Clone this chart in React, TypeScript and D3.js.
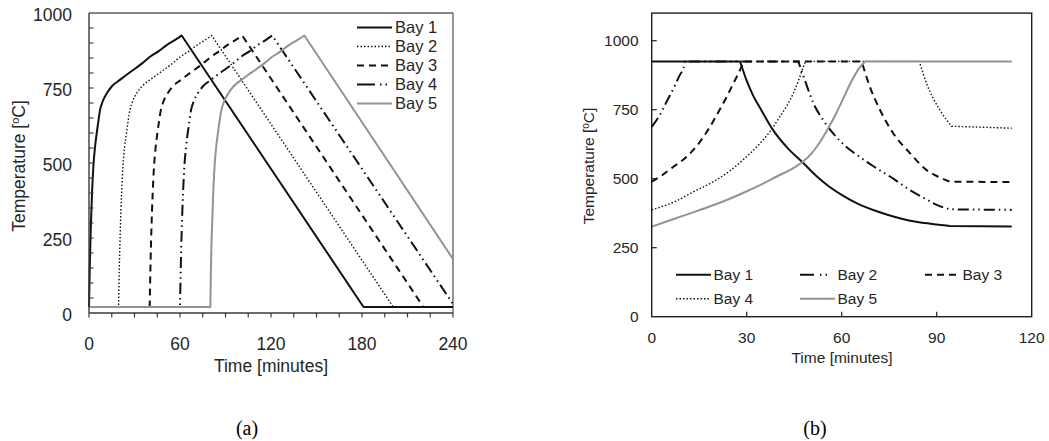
import React from 'react';
import * as d3 from 'd3';

type Pt = [number, number];

const bayNames = ['Bay 1', 'Bay 2', 'Bay 3', 'Bay 4', 'Bay 5'];

// ---- Panel (a): temperature histories over 0–240 min ----
const a1Rise: Pt[] = [[0, 20], [0.5, 150], [1.1, 270], [2, 400], [2.9, 490], [4, 555], [5.1, 600], [6.2, 640], [7.3, 677], [9, 705], [11.7, 732], [15, 755], [20.4, 777], [25, 795], [29.2, 810], [35, 832], [40.2, 854], [46, 873], [51.2, 893], [56, 908], [61.1, 925]];
const a1Fall: Pt[] = [[61.1, 925], [181, 20]];
const a1Tail: Pt[] = [[181, 20], [240, 20]];

const a2Wait: Pt[] = [[0, 20], [19.5, 20]];
const a2Rise: Pt[] = [[19.5, 20], [20, 150], [20.6, 270], [21.5, 400], [22.4, 490], [23.5, 555], [24.7, 600], [25.8, 640], [27, 677], [28.7, 705], [31.4, 732], [34.8, 755], [40.2, 777], [45, 795], [49.3, 810], [55, 832], [60.2, 854], [66, 873], [71.2, 893], [76, 908], [80.9, 925]];
const a2Fall: Pt[] = [[80.9, 925], [200.6, 20]];
const a2Tail: Pt[] = [[200.6, 20], [240, 20]];

const a3Wait: Pt[] = [[0, 20], [40, 20]];
const a3Rise: Pt[] = [[40, 20], [40.5, 150], [41.1, 270], [42, 400], [42.9, 490], [44, 555], [45.1, 600], [46.2, 640], [47.4, 677], [49.1, 705], [51.8, 732], [55.2, 755], [60.6, 777], [65.2, 795], [69.4, 810], [75.2, 832], [80.4, 854], [86, 873], [91.2, 893], [96, 908], [101, 925]];
const a3Fall: Pt[] = [[101, 925], [220.5, 20]];
const a3Tail: Pt[] = [[220.5, 20], [240, 20]];

const a4Wait: Pt[] = [[0, 20], [60, 20]];
const a4Rise: Pt[] = [[60, 20], [60.5, 150], [61.1, 270], [62, 400], [62.9, 490], [64, 555], [65.1, 600], [66.2, 640], [67.3, 677], [69, 705], [71.7, 732], [75, 755], [80.4, 777], [85, 795], [89.2, 810], [95, 832], [100.2, 854], [106, 873], [111.2, 893], [116, 908], [120.8, 925]];
const a4Fall: Pt[] = [[120.8, 925], [240, 30]];

const a5Wait: Pt[] = [[0, 20], [80, 20]];
const a5Rise: Pt[] = [[80, 20], [80.4, 150], [81, 270], [81.9, 400], [82.8, 490], [83.9, 555], [85, 600], [86.1, 640], [87.3, 677], [89.1, 705], [91.8, 732], [95.2, 755], [100.5, 777], [105.3, 795], [109.6, 810], [115.5, 832], [120.8, 854], [126.6, 873], [131.8, 893], [136.8, 908], [142, 925]];
const a5Fall: Pt[] = [[142, 925], [240, 180]];

const panelA: Pt[][][] = [
  [a1Rise, a1Fall, a1Tail],
  [a2Wait, a2Rise, a2Fall, a2Tail],
  [a3Wait, a3Rise, a3Fall, a3Tail],
  [a4Wait, a4Rise, a4Fall],
  [a5Wait, a5Rise, a5Fall],
];
const aXLabels = [0, 60, 120, 180, 240];
const aYLabels = [0, 250, 500, 750, 1000];

// ---- Panel (b): temperature histories over 0–114 min ----
const b1Hold: Pt[] = [[0, 925], [27.9, 925]];
const b1Cool: Pt[] = [[27.9, 925], [30, 855], [32, 802], [34.2, 757], [38.4, 675], [43, 610], [47.7, 559], [52, 510], [56, 472], [60.5, 438], [65, 410], [71.1, 382], [76, 364], [81.6, 348], [88, 337], [94.2, 329]];
const b1End: Pt[] = [[94.2, 329], [113.7, 327]];

const b2Heat: Pt[] = [[0, 688], [2.5, 730], [4.7, 779], [7.4, 839], [8.9, 876], [10, 900], [10.5, 925]];
const b2Hold: Pt[] = [[10.5, 925], [46.3, 925]];
const b2Cool: Pt[] = [[46.3, 925], [47.9, 872], [49.5, 820], [51, 775], [54, 715], [57.3, 664], [61, 620], [65.8, 578], [70, 545], [76.3, 500], [81, 463], [86.8, 425], [90, 405], [94.2, 389]];
const b2End: Pt[] = [[94.2, 389], [113.7, 387]];

const b3Heat: Pt[] = [[0, 489], [2.6, 507], [6.5, 540], [11.1, 580], [15, 630], [18.4, 688], [21, 740], [23.7, 797], [26, 850], [27.9, 894], [29, 925]];
const b3Hold: Pt[] = [[29, 925], [66.3, 925]];
const b3Cool: Pt[] = [[66.3, 925], [68.9, 833], [72.1, 749], [76.3, 664], [81.6, 592], [86.8, 531], [90.5, 507], [94.2, 489]];
const b3End: Pt[] = [[94.2, 489], [113.7, 488]];

const b4Heat: Pt[] = [[0, 387], [7.9, 420], [13.1, 452], [18.5, 483], [23.7, 520], [29, 570], [34.2, 628], [37.5, 673], [40.5, 725], [42.7, 765], [44.7, 809], [46.5, 860], [47.9, 906], [48.6, 925]];
const b4Hold: Pt[] = [[48.6, 925], [84.5, 925]];
const b4Cool: Pt[] = [[84.5, 925], [86.8, 845], [91, 749], [94.7, 690]];
const b4End: Pt[] = [[94.7, 690], [113.7, 683]];

const b5Heat: Pt[] = [[0, 326], [6.5, 352], [13.1, 378], [18.5, 400], [23.7, 423], [29, 449], [34.2, 477], [39.5, 508], [44.7, 538], [47.8, 562], [50.5, 592], [53.1, 632], [56, 688], [58.4, 740], [60.6, 793], [62.6, 842], [64.8, 888], [66.8, 918], [67.5, 925]];
const b5Hold: Pt[] = [[67.5, 925], [113.7, 925]];

const panelB: Pt[][][] = [
  [b1Hold, b1Cool, b1End],
  [b2Heat, b2Hold, b2Cool, b2End],
  [b3Heat, b3Hold, b3Cool, b3End],
  [b4Heat, b4Hold, b4Cool, b4End],
  [b5Heat, b5Hold],
];
const bXLabels = [0, 30, 60, 90, 120];
const bYLabels = [0, 250, 500, 750, 1000];

// ---- styling ----
type LineStyle = { stroke: string; width: number; dash?: string; legendDash?: string };
const black = '#111';
const grey = '#939393';
const styleA: LineStyle[] = [
  { stroke: black, width: 2 },
  { stroke: black, width: 1.4, dash: '1.5,2' },
  { stroke: black, width: 2, dash: '7,5' },
  { stroke: black, width: 2, dash: '11,4,1.5,4,1.5,4', legendDash: '18,5,1.5,4,1.5,20' },
  { stroke: grey, width: 2 },
];
const styleB: LineStyle[] = [
  { stroke: black, width: 2 },
  { stroke: black, width: 2, dash: '11,4,1.5,4,1.5,4', legendDash: '14,6,1.5,4,1.5,20' },
  { stroke: black, width: 2, dash: '7,5' },
  { stroke: black, width: 1.4, dash: '1.5,2' },
  { stroke: grey, width: 2 },
];

const FONT = "'Liberation Sans', Arial, Helvetica, sans-serif";
const TEXT = '#262626';

// Joins piecewise segments into one path so dash patterns run continuously
function buildPath(segs: Pt[][], gen: d3.Line<Pt>): string {
  return segs
    .map((s, i) => {
      const p = gen(s) || '';
      return i === 0 ? p : 'L' + p.slice(1);
    })
    .join('');
}

function PanelA() {
  const x = d3.scaleLinear().domain([0, 240]).range([89, 453]);
  const y = d3.scaleLinear().domain([0, 1000]).range([313, 13]);
  const gen = d3.line<Pt>().x((d) => x(d[0])).y((d) => y(d[1])).curve(d3.curveMonotoneX);
  const fs = 17.5;
  const legendX0 = 357;
  const legendLen = 35;
  const legendY0 = 27.5;
  const legendStep = 19;
  return (
    <g fontFamily={FONT} fill={TEXT}>
      <line x1={x(0)} x2={x(240)} y1={y(1000)} y2={y(1000)} stroke="#5e5e5e" strokeWidth={1.3} />
      <line x1={x(240)} x2={x(240)} y1={y(1000)} y2={y(0)} stroke="#5e5e5e" strokeWidth={1.3} />
      {panelA.map((segs, i) => (
        <path
          key={i}
          d={buildPath(segs, gen)}
          fill="none"
          stroke={styleA[i].stroke}
          strokeWidth={styleA[i].width}
          strokeDasharray={styleA[i].dash}
          strokeLinejoin="round"
        />
      ))}
      <line x1={x(0)} x2={x(240)} y1={y(0)} y2={y(0)} stroke="#3a3a3a" strokeWidth={1.4} />
      <line x1={x(0)} x2={x(0)} y1={y(0)} y2={y(1000)} stroke="#3a3a3a" strokeWidth={1.4} />
      {d3.range(0, 241, 15).map((t) => (
        <line key={'xt' + t} x1={x(t)} x2={x(t)} y1={y(0)} y2={y(0) + 4.5} stroke="#3a3a3a" strokeWidth={1.2} />
      ))}
      {d3.range(50, 1000, 50).map((v) => (
        <line key={'yt' + v} x1={x(0)} x2={x(0) + 4.5} y1={y(v)} y2={y(v)} stroke="#3a3a3a" strokeWidth={1.1} />
      ))}
      {aXLabels.map((t) => (
        <text key={'xl' + t} x={x(t)} y={350} textAnchor="middle" fontSize={fs}>
          {t}
        </text>
      ))}
      {aYLabels.map((v) => (
        <text key={'yl' + v} x={72} y={y(v) + 1.5 + fs * 0.35} textAnchor="end" fontSize={fs}>
          {v}
        </text>
      ))}
      <text x={271} y={372} textAnchor="middle" fontSize={fs}>
        Time [minutes]
      </text>
      <text transform="translate(25,166) rotate(-90)" textAnchor="middle" fontSize={fs}>
        Temperature [<tspan fontSize={11} dy={-6}>o</tspan>
        <tspan dy={6}>C]</tspan>
      </text>
      {bayNames.map((name, i) => {
        const ly = legendY0 + i * legendStep;
        const st = styleA[i];
        return (
          <g key={'lg' + i}>
            <line
              x1={legendX0}
              x2={legendX0 + legendLen}
              y1={ly}
              y2={ly}
              stroke={st.stroke}
              strokeWidth={st.width}
              strokeDasharray={st.legendDash || st.dash}
            />
            <text x={legendX0 + legendLen + 3} y={ly + 16.5 * 0.35} fontSize={16.5}>
              {name}
            </text>
          </g>
        );
      })}
      <text x={247} y={435} textAnchor="middle" fontSize={20} fontFamily="'Liberation Serif', 'Times New Roman', serif" fill="#000">
        (a)
      </text>
    </g>
  );
}

function PanelB() {
  const x = d3.scaleLinear().domain([0, 120]).range([651.7, 1031.7]);
  const y = d3.scaleLinear().domain([0, 1100]).range([316.7, 13.1]);
  const gen = d3.line<Pt>().x((d) => x(d[0])).y((d) => y(d[1])).curve(d3.curveMonotoneX);
  const fs = 15.5;
  const legendCols = [676, 800, 925];
  const legendRows = [274.7, 298.7];
  const legendLen = 35;
  return (
    <g fontFamily={FONT} fill={TEXT}>
      {panelB.map((segs, i) => (
        <path
          key={i}
          d={buildPath(segs, gen)}
          fill="none"
          stroke={styleB[i].stroke}
          strokeWidth={styleB[i].width}
          strokeDasharray={styleB[i].dash}
          strokeLinejoin="round"
        />
      ))}
      <rect x={x(0)} y={y(1100)} width={x(120) - x(0)} height={y(0) - y(1100)} fill="none" stroke="#1e1e1e" strokeWidth={1.4} />
      {bXLabels.slice(1, -1).map((t) => (
        <line key={'xt' + t} x1={x(t)} x2={x(t)} y1={y(0)} y2={y(0) - 5} stroke="#1e1e1e" strokeWidth={1.2} />
      ))}
      {bYLabels.slice(1).map((v) => (
        <line key={'yt' + v} x1={x(0)} x2={x(0) + 5} y1={y(v)} y2={y(v)} stroke="#1e1e1e" strokeWidth={1.2} />
      ))}
      {bXLabels.map((t) => (
        <text key={'xl' + t} x={x(t)} y={343} textAnchor="middle" fontSize={fs}>
          {t}
        </text>
      ))}
      {bYLabels.map((v) => (
        <text key={'yl' + v} x={638.5} y={y(v) + fs * 0.35} textAnchor="end" fontSize={fs}>
          {v}
        </text>
      ))}
      <text x={842} y={363} textAnchor="middle" fontSize={fs}>
        Time [minutes]
      </text>
      <text transform="translate(594,166) rotate(-90)" textAnchor="middle" fontSize={fs}>
        Temperature [<tspan fontSize={10} dy={-5.5}>o</tspan>
        <tspan dy={5.5}>C]</tspan>
      </text>
      {bayNames.map((name, i) => {
        const lx = legendCols[i % 3];
        const ly = legendRows[Math.floor(i / 3)];
        const st = styleB[i];
        return (
          <g key={'lg' + i}>
            <line
              x1={lx}
              x2={lx + legendLen}
              y1={ly}
              y2={ly}
              stroke={st.stroke}
              strokeWidth={st.width}
              strokeDasharray={st.legendDash || st.dash}
            />
            <text x={lx + legendLen + 2.5} y={ly + fs * 0.35} fontSize={fs}>
              {name}
            </text>
          </g>
        );
      })}
      <text x={815} y={435} textAnchor="middle" fontSize={20} fontFamily="'Liberation Serif', 'Times New Roman', serif" fill="#000">
        (b)
      </text>
    </g>
  );
}

export default function App() {
  return (
    <svg
      width={1049}
      height={441}
      viewBox="0 0 1049 441"
      style={{ position: 'absolute', left: 0, top: 0, background: '#fff' }}
    >
      <rect width={1049} height={441} fill="#fff" />
      <PanelA />
      <PanelB />
    </svg>
  );
}
